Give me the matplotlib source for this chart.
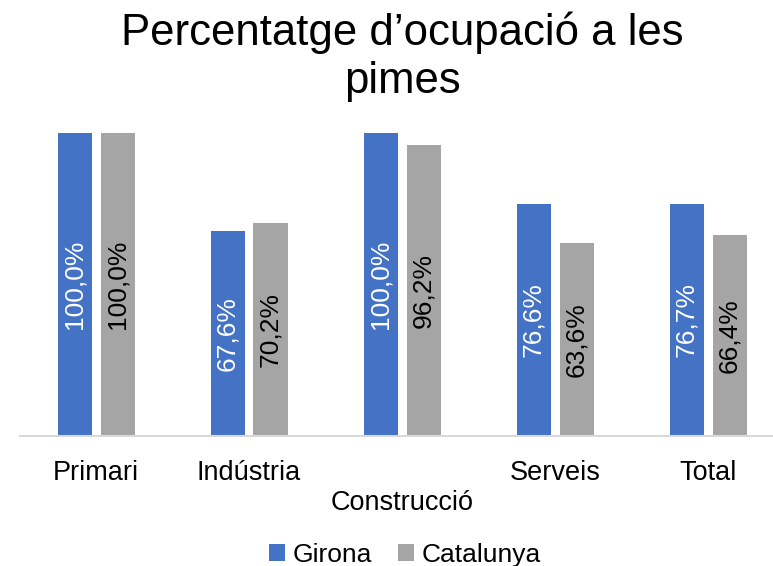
import matplotlib
matplotlib.use("Agg")
import matplotlib.pyplot as plt
import numpy as np

plt.rcParams['font.family'] = ['Liberation Sans', 'DejaVu Sans']

categories = ["Primari", "Indústria", "Construcció", "Serveis", "Total"]
girona = [100.0, 67.6, 100.0, 76.6, 76.7]
catalunya = [100.0, 70.2, 96.2, 63.6, 66.4]
series_names = ["Girona", "Catalunya"]
colors = ["#4472C4", "#A5A5A5"]
title = "Percentatge d’ocupació a les\npimes"

fig = plt.figure(figsize=(7.73, 5.66), dpi=100)
ax = fig.add_axes([19.5/773, 130/566, 765/773, 303/566])

x = np.arange(len(categories))
w = 34/153
gap = 9/153
off = (w + gap) / 2
b1 = ax.bar(x - off, girona, w, color=colors[0], label=series_names[0])
b2 = ax.bar(x + off, catalunya, w, color=colors[1], label=series_names[1])

fs = 19
for rect, v in zip(b1, girona):
    ax.text(rect.get_x() + rect.get_width()/2, v/2, f"{v:.1f}%".replace('.', ','),
            rotation=90, ha='center', va='center', color='white', fontsize=fs)
for rect, v in zip(b2, catalunya):
    ax.text(rect.get_x() + rect.get_width()/2, v/2, f"{v:.1f}%".replace('.', ','),
            rotation=90, ha='center', va='center', color='black', fontsize=fs)

ax.set_xlim(-0.5, len(categories) - 0.5)
ax.set_ylim(0, 100)
ax.set_xticks(x)
labels = [("\n" + c) if i == 2 else c for i, c in enumerate(categories)]
ax.set_xticklabels(labels, fontsize=19.5)
ax.tick_params(axis='x', length=0, pad=17)
ax.set_yticks([])
for s in ['top', 'right', 'left']:
    ax.spines[s].set_visible(False)
ax.spines['bottom'].set_color('#D9D9D9')
ax.spines['bottom'].set_linewidth(1.5)

fig.text(402/773, 1 - 57/566, title, ha='center', va='center', fontsize=31.5,
         linespacing=1.22)

fig.legend(loc='center', bbox_to_anchor=(405/773, 1 - 555/566), ncol=2,
           frameon=False, fontsize=fs, handlelength=0.6, handleheight=0.6,
           handletextpad=0.3, columnspacing=1.0)

fig.savefig("out.png", dpi=100)
